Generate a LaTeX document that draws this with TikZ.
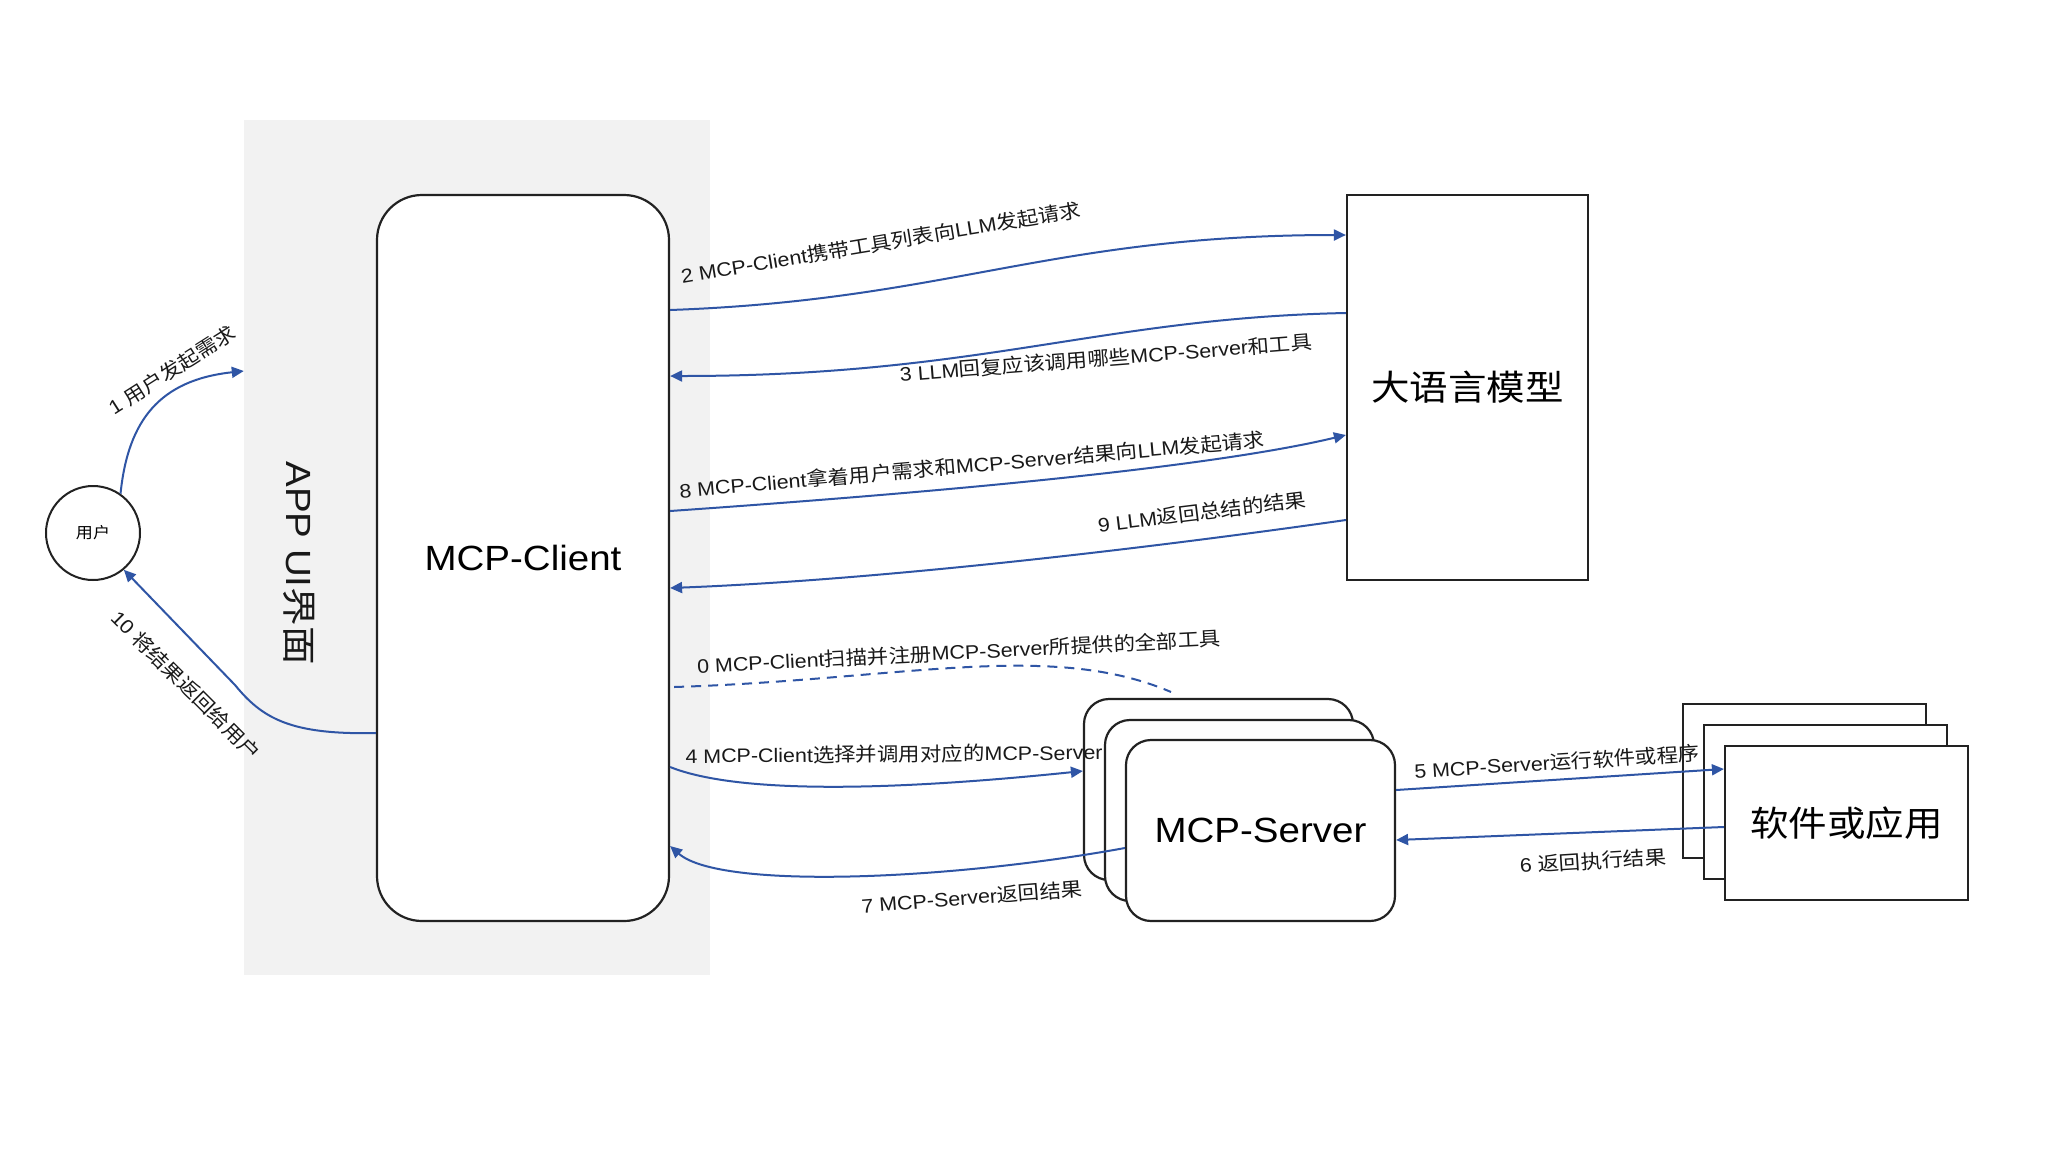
\documentclass[tikz,border=0pt]{standalone}
\usepackage{fontspec}
\setmainfont{Liberation Sans}[FakeStretch=1.1]
\newfontfamily\cjk{Noto Sans CJK SC}[FakeStretch=1.1]
\usetikzlibrary{arrows.meta,calc}
\definecolor{flow}{RGB}{47,85,165}
\definecolor{panelgray}{RGB}{242,242,242}
\definecolor{edgecol}{RGB}{34,34,34}
\definecolor{txt}{RGB}{25,25,25}
\newcommand\zh[1]{{\cjk #1}}
\newcommand\myfs[1]{\fontsize{#1}{#1}\selectfont}
\begin{document}
\begin{tikzpicture}[x=1pt,y=-1pt,
  flowline/.style={draw=flow,line width=2pt,-{Triangle[length=12pt,width=11pt]}},
  dashflow/.style={draw=flow,line width=2pt,dash pattern=on 10pt off 7pt},
  lbl/.style={font=\myfs{19.5},inner sep=0pt,text=txt},
  box/.style={draw=edgecol,line width=2.2pt,fill=white,text=black,inner sep=0pt},
  rbox/.style={box,rounded corners=25pt,minimum width=269pt,minimum height=181pt},
  sqbox/.style={box,minimum width=243pt,minimum height=154pt},
  bigtext/.style={font=\myfs{35}}]
\useasboundingbox (0,0) rectangle (2048,1152);
\fill[white] (0,0) rectangle (2048,1152);
% APP UI panel
\node[fill=panelgray,minimum width=466pt,minimum height=855pt,inner sep=0pt] (panel) at (477,547.5) {};
\node[bigtext,rotate=-90,text=txt,inner sep=0pt] (applbl) at (299,563) {APP UI\zh{界面}};
% MCP-Client
\node[box,rounded corners=45pt,minimum width=292pt,minimum height=726pt,bigtext] (client) at (523,558) {MCP-Client};
% LLM
\node[box,minimum width=241pt,minimum height=385pt,bigtext] (llm) at (1467.5,387.5) {\zh{大语言模型}};
% MCP-Server stack
\node[rbox] (sback) at (1218.5,789.5) {};
\node[rbox] (smid) at (1239.5,810.5) {};
\node[rbox,bigtext] (sfront) at (1260.5,830.5) {MCP-Server};
% Software stack
\node[sqbox] (wback) at (1804.5,781) {};
\node[sqbox] (wmid) at (1825.5,802) {};
\node[sqbox,bigtext] (wfront) at (1846.5,823) {\zh{软件或应用}};
% User
\node[circle,draw=edgecol,line width=2pt,minimum size=94pt,inner sep=0pt,fill=white,font=\myfs{15.5}] (user) at (93,533) {\zh{用户}};
\coordinate (dashend) at (1171,692);
% connectors
\draw[flowline] (user.55) .. controls (128,420) and (160,380) .. (panel.west |- 0,371);
\draw[flowline] (client.west |- 0,733) .. controls (290,735) and (262,718) .. (235,685) -- (user.-50);
\draw[flowline] (client.east |- 0,310) .. controls (950,300) and (1050,235) .. (llm.west |- 0,235);
\draw[flowline] (llm.west |- 0,313) .. controls (1100,318) and (980,376) .. (client.east |- 0,376);
\draw[flowline] (client.east |- 0,511) .. controls (900,495) and (1200,470) .. (llm.west |- 0,435);
\draw[flowline] (llm.west |- 0,520) .. controls (1150,548) and (880,580) .. (client.east |- 0,588);
\draw[dashflow] ([xshift=4pt]client.east |- 0,687) .. controls (900,680) and (1050,640) .. (dashend);
\draw[flowline] (client.east |- 0,767) .. controls (740,795) and (900,790) .. (sback.west |- 0,771);
\draw[flowline] (sfront.west |- 0,848) .. controls (950,880) and (720,890) .. (client.east |- 0,846);
\draw[flowline] (sfront.east |- 0,790) -- (wfront.west |- 0,769);
\draw[flowline] (wfront.west |- 0,827) -- (sfront.east |- 0,840);
% labels
\node[lbl,rotate=32.5] (l1) at (172,370) {1 \zh{用户发起需求}};
\node[lbl,rotate=-45] (l10) at (186,685) {10 \zh{将结果返回给用户}};
\node[lbl,rotate=9.5] (l2) at (881,243) {2 MCP-Client\zh{携带工具列表向}LLM\zh{发起请求}};
\node[lbl,rotate=4.5] (l3) at (1106,358) {3 LLM\zh{回复应该调用哪些}MCP-Server\zh{和工具}};
\node[lbl,rotate=5] (l8) at (972,465) {8 MCP-Client\zh{拿着用户需求和}MCP-Server\zh{结果向}LLM\zh{发起请求}};
\node[lbl,rotate=7] (l9) at (1202,512) {9 LLM\zh{返回总结的结果}};
\node[lbl,rotate=3] (l0) at (959,652) {0 MCP-Client\zh{扫描并注册}MCP-Server\zh{所提供的全部工具}};
\node[lbl,rotate=0.5] (l4) at (894,754) {4 MCP-Client\zh{选择并调用对应的}MCP-Server};
\node[lbl,rotate=4.5] (l7) at (972,897) {7 MCP-Server\zh{返回结果}};
\node[lbl,rotate=3.6] (l5) at (1557,762) {5 MCP-Server\zh{运行软件或程序}};
\node[lbl,rotate=3.6] (l6) at (1593,861) {6 \zh{返回执行结果}};
\end{tikzpicture}
\end{document}
